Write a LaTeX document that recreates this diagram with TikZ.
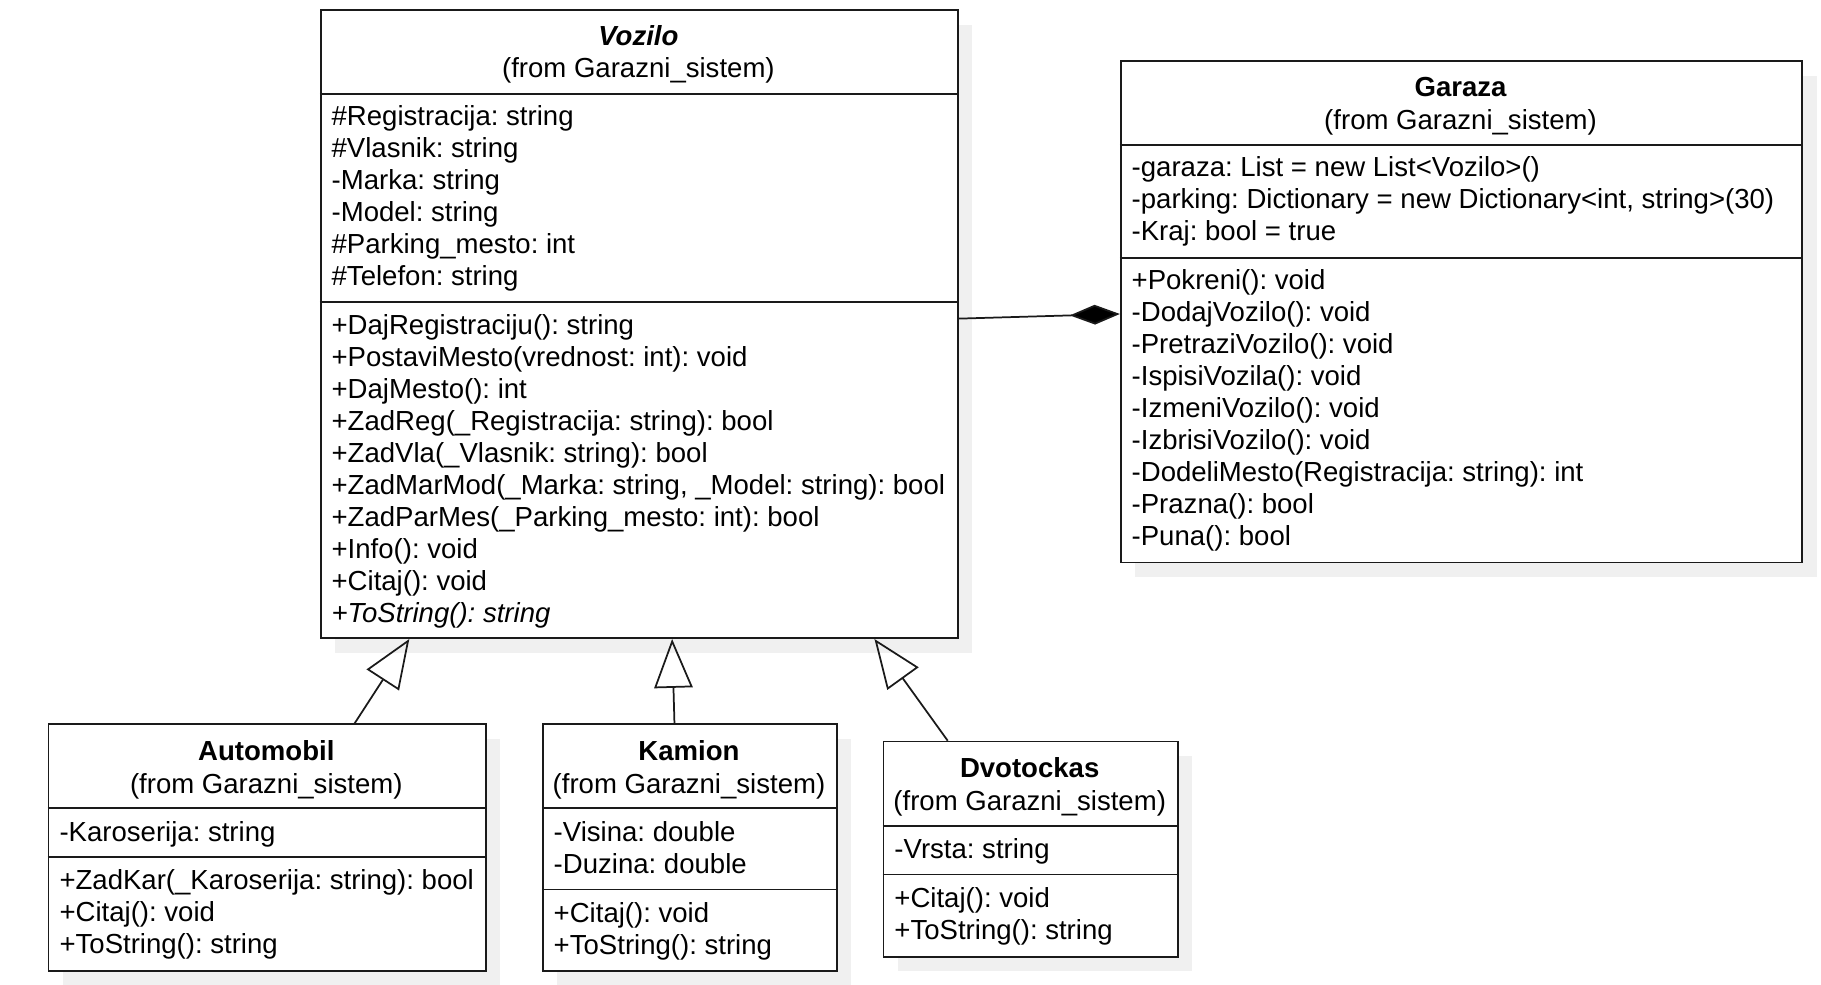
\documentclass[tikz,border=0pt]{standalone}
\usepackage{fontspec}
\setmainfont{Liberation Sans}
\usetikzlibrary{arrows.meta,calc}
\definecolor{shadowc}{HTML}{F0F0F0}
\definecolor{linec}{HTML}{1A1A1A}
\tikzset{
  classbox/.style={draw=linec, line width=1.5pt, fill=white, rectangle, inner sep=0pt, anchor=north west},
  shadowbox/.style={fill=shadowc, draw=none, rectangle, inner sep=0pt, anchor=north west},
  txt/.style={inner sep=0pt, anchor=base west, font=\fontsize{23.7}{27.5}\selectfont\frenchspacing, text=black},
  ttl/.style={inner sep=0pt, anchor=base, font=\fontsize{23.7}{27.5}\selectfont\frenchspacing, text=black},
  sep/.style={draw=linec, line width=1.5pt},
  gen/.style={draw=linec, line width=1.5pt, -{Triangle[open, length=42pt, width=33pt]}},
  comp/.style={draw=linec, line width=1.5pt, -{Diamond[length=43pt, width=17pt, fill=black]}},
}
\newcommand\linesat[4]{% name, x, first baseline, list
  \foreach \t [count=\i from 0] in {#4}
    \node[txt] (#1\i) at (#2, #3+27.5*\i) {\t};
}
\begin{document}
\begin{tikzpicture}[x=1pt, y=-1pt]
\useasboundingbox (0,0) rectangle (1566,847);
\fill[white] (0,0) rectangle (1566,847);

% shadows
\node[shadowbox, minimum width=548pt, minimum height=540pt] (vozs) at (288,21) {};
\node[shadowbox, minimum width=586pt, minimum height=431pt] (gars) at (976,65) {};
\node[shadowbox, minimum width=376pt, minimum height=212pt] (auts) at (54,635) {};
\node[shadowbox, minimum width=253pt, minimum height=212pt] (kams) at (479,635) {};
\node[shadowbox, minimum width=253pt, minimum height=185pt] (dvos) at (772,650) {};

% Vozilo
\node[classbox, minimum width=548pt, minimum height=540pt] (voz) at (275,8) {};
\draw[sep] (275,81) -- (823,81);
\draw[sep] (275,260) -- (823,260);
\node[ttl] (vozt) at (549,39) {\bfseries\itshape Vozilo};
\node[ttl] (vozf) at (549,67) {(from Garazni\_sistem)};
\linesat{voza}{285}{108}{\#Registracija: string, \#Vlasnik: string, -Marka: string, -Model: string, \#Parking\_mesto: int, \#Telefon: string}
\linesat{vozm}{285}{288}{+DajRegistraciju(): string, +PostaviMesto(vrednost: int): void, +DajMesto(): int, +ZadReg(\_Registracija: string): bool, +ZadVla(\_Vlasnik: string): bool, {+ZadMarMod(\_Marka: string, \_Model: string): bool}, +ZadParMes(\_Parking\_mesto: int): bool, +Info(): void, +Citaj(): void, \textit{+ToString(): string}}

% Garaza
\node[classbox, minimum width=586pt, minimum height=431pt] (gar) at (963,52) {};
\draw[sep] (963,125) -- (1549,125);
\draw[sep] (963,222) -- (1549,222);
\node[ttl] (gart) at (1256,83) {\bfseries Garaza};
\node[ttl] (garf) at (1256,111) {(from Garazni\_sistem)};
\linesat{gara}{973}{152}{-garaza: List = new List<Vozilo>(), {-parking: Dictionary = new Dictionary<int, string>(30)}, -Kraj: bool = true}
\linesat{garm}{973}{249}{+Pokreni(): void, -DodajVozilo(): void, -PretraziVozilo(): void, -IspisiVozila(): void, -IzmeniVozilo(): void, -IzbrisiVozilo(): void, -DodeliMesto(Registracija: string): int, -Prazna(): bool, -Puna(): bool}

% Automobil
\node[classbox, minimum width=376pt, minimum height=212pt] (aut) at (41,622) {};
\draw[sep] (41,695) -- (417,695);
\draw[sep] (41,737) -- (417,737);
\node[ttl] (autt) at (229,654) {\bfseries Automobil};
\node[ttl] (autf) at (229,682) {(from Garazni\_sistem)};
\linesat{auta}{51}{724}{-Karoserija: string}
\linesat{autm}{51}{765}{+ZadKar(\_Karoserija: string): bool, +Citaj(): void, +ToString(): string}

% Kamion
\node[classbox, minimum width=253pt, minimum height=212pt] (kam) at (466,622) {};
\draw[sep] (466,695) -- (719,695);
\draw[sep] (466,765) -- (719,765);
\node[ttl] (kamt) at (592.5,654) {\bfseries Kamion};
\node[ttl] (kamf) at (592.5,682) {(from Garazni\_sistem)};
\linesat{kama}{476}{724}{-Visina: double, -Duzina: double}
\linesat{kamm}{476}{793}{+Citaj(): void, +ToString(): string}

% Dvotockas
\node[classbox, minimum width=253pt, minimum height=185pt] (dvo) at (759,637) {};
\draw[sep] (759,710) -- (1012,710);
\draw[sep] (759,752) -- (1012,752);
\node[ttl] (dvot) at (885.5,669) {\bfseries Dvotockas};
\node[ttl] (dvof) at (885.5,697) {(from Garazni\_sistem)};
\linesat{dvoa}{769}{738}{-Vrsta: string}
\linesat{dvom}{769}{780}{+Citaj(): void, +ToString(): string}

% connectors
\draw[comp] ($(voz.north east)+(0,266)$) -- ($(gar.north west)+(0,218)$);
\draw[gen] ($(aut.north west)+(264,0)$) -- ($(voz.south west)+(77,0)$);
\draw[gen] ($(kam.north west)+(114,0)$) -- ($(voz.south west)+(303,0)$);
\draw[gen] ($(dvo.north west)+(56,0)$) -- ($(voz.south west)+(477,0)$);
\end{tikzpicture}
\end{document}
